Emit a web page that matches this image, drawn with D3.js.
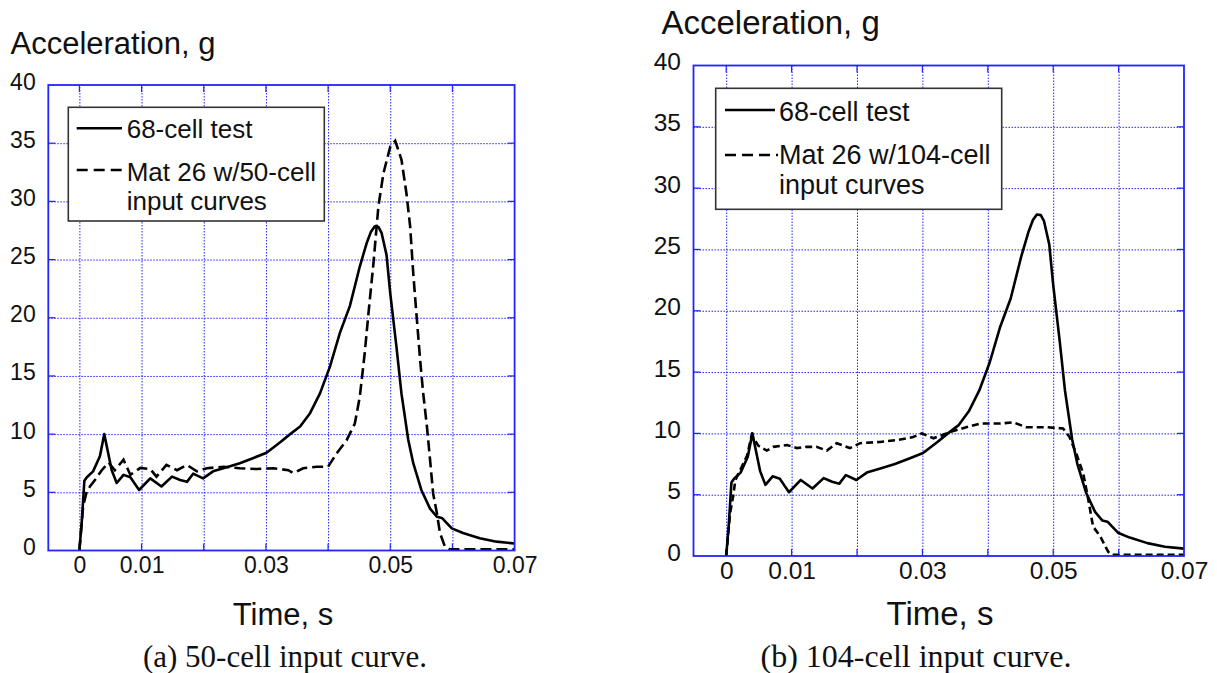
<!doctype html>
<html>

<head>
	<meta charset="utf-8">
	<script src="https://d3js.org/d3.v7.min.js" type="text/javascript"></script>
	<style>
		body { margin: 0; background: #fff; }
		#chart text { fill: #111; }
	</style>
</head>

<body>

	<div id="chart"></div>

	<script type="text/javascript">

		(function () {

			"use strict";

			// Values: [time s, acceleration g]
			const testCurve = [
				[0, 0], [0.0004, 2.6], [0.0008, 6.0], [0.0012, 6.3], [0.0022, 6.8], [0.0033, 8.1], [0.004, 10.0],
				[0.0052, 6.9], [0.006, 5.8], [0.0071, 6.5], [0.0082, 6.3], [0.0096, 5.2], [0.0114, 6.2], [0.0132, 5.5],
				[0.0149, 6.35], [0.0162, 6.06], [0.0173, 5.9], [0.0183, 6.6], [0.0199, 6.2], [0.0215, 6.8], [0.0237, 7.15],
				[0.0258, 7.5], [0.028, 7.95], [0.0301, 8.4], [0.0323, 9.3], [0.0339, 10.0], [0.0355, 10.65], [0.0371, 11.8],
				[0.0387, 13.5], [0.0403, 15.8], [0.0419, 18.7], [0.0435, 21.0], [0.0451, 24.4], [0.0462, 26.4], [0.0469, 27.4],
				[0.0475, 27.85], [0.0481, 27.8], [0.0486, 27.3], [0.0494, 25.4], [0.05, 22.1], [0.051, 17.5], [0.0518, 13.5],
				[0.0529, 9.5], [0.0537, 7.5], [0.055, 5.2], [0.0564, 3.6], [0.0575, 2.9], [0.0583, 2.8], [0.0599, 1.9],
				[0.0617, 1.5], [0.0644, 1.05], [0.0671, 0.76], [0.07, 0.6]
			];

			const mat26Cell50 = [
				[0, 0], [0.0006, 3.8], [0.0011, 4.9], [0.0017, 5.5], [0.0025, 6.06], [0.0036, 6.9], [0.0047, 7.55],
				[0.0057, 6.9], [0.0071, 7.8], [0.0082, 6.5], [0.0098, 7.1], [0.0114, 7.0], [0.0124, 6.35], [0.014, 7.35],
				[0.0157, 6.9], [0.0173, 7.35], [0.0189, 6.8], [0.0205, 7.07], [0.0232, 7.2], [0.0258, 7.07], [0.0285, 7.0],
				[0.0312, 7.07], [0.0336, 6.9], [0.0344, 6.65], [0.036, 7.07], [0.0382, 7.2], [0.04, 7.2], [0.0414, 8.36],
				[0.043, 9.5], [0.0443, 10.9], [0.0451, 13.2], [0.0459, 17.0], [0.0465, 20.4], [0.0473, 24.7], [0.0481, 29.6],
				[0.0489, 32.4], [0.05, 34.7], [0.0508, 35.2], [0.0518, 33.6], [0.0526, 30.7], [0.0532, 27.85], [0.0537, 23.8],
				[0.0542, 20.4], [0.0548, 16.4], [0.0553, 13.5], [0.0559, 10.65], [0.0564, 7.8], [0.0569, 4.9], [0.0575, 3.2],
				[0.058, 1.5], [0.0588, 0.33], [0.0596, 0.1], [0.07, 0.1]
			];

			const mat26Cell104 = [
				[0, 0], [0.0006, 3.5], [0.0011, 5.0], [0.0014, 6.2], [0.0024, 7.3], [0.0032, 8.2], [0.0039, 9.86],
				[0.0049, 9.0], [0.0062, 8.6], [0.0072, 8.9], [0.0093, 9.05], [0.0108, 8.8], [0.0123, 8.9], [0.0138, 8.9],
				[0.0154, 8.6], [0.0169, 9.2], [0.0189, 8.8], [0.0205, 9.2], [0.0235, 9.3], [0.0261, 9.45], [0.0286, 9.7],
				[0.0299, 10.0], [0.0317, 9.6], [0.0342, 10.1], [0.0367, 10.5], [0.0388, 10.8], [0.0418, 10.8], [0.0439, 10.9],
				[0.0459, 10.5], [0.049, 10.5], [0.0515, 10.4], [0.0525, 9.7], [0.0535, 8.4], [0.0546, 6.7], [0.0553, 4.8],
				[0.0561, 2.4], [0.0572, 1.6], [0.0584, 0.35], [0.059, 0.1], [0.07, 0.1]
			];

			const xDomain = [-0.005, 0.07];
			const yDomain = [0, 40];
			const xTickLabels = [0, 0.01, 0.03, 0.05, 0.07];
			const xGrid = [0, 0.01, 0.02, 0.03, 0.04, 0.05, 0.06];
			const yTickLabels = [0, 5, 10, 15, 20, 25, 30, 35, 40];
			const yGrid = [5, 10, 15, 20, 25, 30, 35];

			const yTitle = "Acceleration, g";
			const xTitle = "Time, s";
			const legendTest = "68-cell test";
			const legendSimA = ["Mat 26 w/50-cell", "input curves"];
			const legendSimB = ["Mat 26 w/104-cell", "input curves"];
			const captionA = "(a) 50-cell input curve.";
			const captionB = "(b) 104-cell input curve.";

			const blue = "#2323ff";

			let svg = d3.select("#chart").append("svg")
				.attr("width", 1217)
				.attr("height", 673)
				.style("font-family", "'Liberation Sans', Arial, sans-serif");

			//Draws one of the two panels. Layout lives in the config, data comes from the arrays above.
			let drawPanel = function (c) {
				let x = d3.scaleLinear().domain(xDomain).range([c.left, c.right]);
				let y = d3.scaleLinear().domain(yDomain).range([c.bottom, c.top]);
				let g = svg.append("g");

				// dotted grid
				g.append("g")
					.attr("transform", "translate(0," + c.bottom + ")")
					.call(d3.axisBottom(x).tickValues(xGrid).tickSize(-(c.bottom - c.top)).tickFormat(""))
					.call(a => a.select(".domain").remove())
					.selectAll("line")
					.attr("stroke", blue).attr("stroke-width", 1).attr("stroke-dasharray", "1.5,1.5");
				g.append("g")
					.attr("transform", "translate(" + c.left + ",0)")
					.call(d3.axisLeft(y).tickValues(yGrid).tickSize(-(c.right - c.left)).tickFormat(""))
					.call(a => a.select(".domain").remove())
					.selectAll("line")
					.attr("stroke", blue).attr("stroke-width", 1).attr("stroke-dasharray", "1.5,1.5");

				// short solid ticks on the inside of the frame
				xGrid.forEach(function (d) {
					g.append("line").attr("x1", x(d)).attr("x2", x(d)).attr("y1", c.top).attr("y2", c.top + 7)
						.attr("stroke", blue).attr("stroke-width", 1.2);
					g.append("line").attr("x1", x(d)).attr("x2", x(d)).attr("y1", c.bottom).attr("y2", c.bottom - 7)
						.attr("stroke", blue).attr("stroke-width", 1.2);
				});
				yGrid.forEach(function (d) {
					g.append("line").attr("x1", c.left).attr("x2", c.left + 7).attr("y1", y(d)).attr("y2", y(d))
						.attr("stroke", blue).attr("stroke-width", 1.2);
					g.append("line").attr("x1", c.right).attr("x2", c.right - 7).attr("y1", y(d)).attr("y2", y(d))
						.attr("stroke", blue).attr("stroke-width", 1.2);
				});

				// tick labels
				g.append("g")
					.attr("transform", "translate(" + c.left + ",0)")
					.call(d3.axisLeft(y).tickValues(yTickLabels).tickSize(0).tickPadding(c.yPad))
					.call(a => a.select(".domain").remove())
					.selectAll("text")
					.attr("dy", 4)
					.style("font-size", c.tickFont + "px")
					.style("font-family", "'Liberation Sans', Arial, sans-serif")
					.attr("fill", "#111");
				g.append("g")
					.attr("transform", "translate(0," + c.bottom + ")")
					.call(d3.axisBottom(x).tickValues(xTickLabels).tickSize(0).tickFormat(d => String(d)))
					.call(a => a.select(".domain").remove())
					.selectAll("text")
					.attr("y", c.xLabelBase - c.bottom)
					.attr("dy", 0)
					.style("font-size", c.tickFont + "px")
					.style("font-family", "'Liberation Sans', Arial, sans-serif")
					.attr("fill", "#111");

				// curves
				let line = d3.line().x(d => x(d[0])).y(d => y(d[1]));
				g.append("path").datum(c.sim).attr("d", line)
					.attr("fill", "none").attr("stroke", "#000").attr("stroke-width", 2.6)
					.attr("stroke-dasharray", c.dash);
				g.append("path").datum(testCurve).attr("d", line)
					.attr("fill", "none").attr("stroke", "#000").attr("stroke-width", 2.6)
					.attr("stroke-linejoin", "round");

				// frame
				g.append("rect")
					.attr("x", c.left).attr("y", c.top)
					.attr("width", c.right - c.left).attr("height", c.bottom - c.top)
					.attr("fill", "none").attr("stroke", blue).attr("stroke-width", 1.8);

				// legend
				let L = c.legend;
				g.append("rect")
					.attr("x", L.x).attr("y", L.y).attr("width", L.w).attr("height", L.h)
					.attr("fill", "#fff").attr("stroke", "#333").attr("stroke-width", 1.6);
				g.append("line").attr("x1", L.sx1).attr("x2", L.sx2).attr("y1", L.row1).attr("y2", L.row1)
					.attr("stroke", "#000").attr("stroke-width", 2.6);
				g.append("line").attr("x1", L.sx1).attr("x2", L.sx2 + 3).attr("y1", L.row2).attr("y2", L.row2)
					.attr("stroke", "#000").attr("stroke-width", 2.6).attr("stroke-dasharray", "11,6");
				g.append("text").attr("x", L.tx).attr("y", L.base1).style("font-size", L.font + "px").text(legendTest);
				g.append("text").attr("x", L.tx).attr("y", L.base2).style("font-size", L.font + "px").text(c.simLabel[0]);
				g.append("text").attr("x", L.tx).attr("y", L.base3).style("font-size", L.font + "px").text(c.simLabel[1]);

				// titles and caption
				g.append("text").attr("x", c.titleX).attr("y", c.titleY)
					.style("font-size", c.titleFont + "px").text(yTitle);
				g.append("text").attr("x", c.xTitleX).attr("y", 625).attr("text-anchor", "middle")
					.style("font-size", c.titleFont + "px").text(xTitle);
				g.append("text").attr("x", c.capX).attr("y", 666.5).attr("text-anchor", "middle")
					.style("font-family", "'Liberation Serif', 'Times New Roman', serif")
					.style("font-size", c.capFont + "px").text(c.caption);
			};

			drawPanel({
				left: 48.3, right: 514.6, top: 85, bottom: 550.5,
				yPad: 12.6, tickFont: 23, xLabelBase: 572.5,
				titleX: 10.5, titleY: 54, titleFont: 31, xTitleX: 283,
				capX: 285, capFont: 31, caption: captionA,
				sim: mat26Cell50, simLabel: legendSimA, dash: "11,5",
				legend: {
					x: 68.3, y: 107.3, w: 256, h: 113.7, sx1: 76.7, sx2: 122, tx: 126.7, font: 26,
					row1: 128.3, row2: 170, base1: 137.8, base2: 180.5, base3: 209.5
				}
			});

			drawPanel({
				left: 693.5, right: 1184, top: 65.5, bottom: 556,
				yPad: 12.5, tickFont: 24.5, xLabelBase: 579,
				titleX: 661.5, titleY: 34, titleFont: 33, xTitleX: 940,
				capX: 916, capFont: 32, caption: captionB,
				sim: mat26Cell104, simLabel: legendSimB, dash: "7,4",
				legend: {
					x: 715.7, y: 88.3, w: 286, h: 121, sx1: 725, sx2: 775, tx: 779, font: 27,
					row1: 110, row2: 155, base1: 120.5, base2: 163.8, base3: 193.8
				}
			});

		})();

	</script>

</body>

</html>
